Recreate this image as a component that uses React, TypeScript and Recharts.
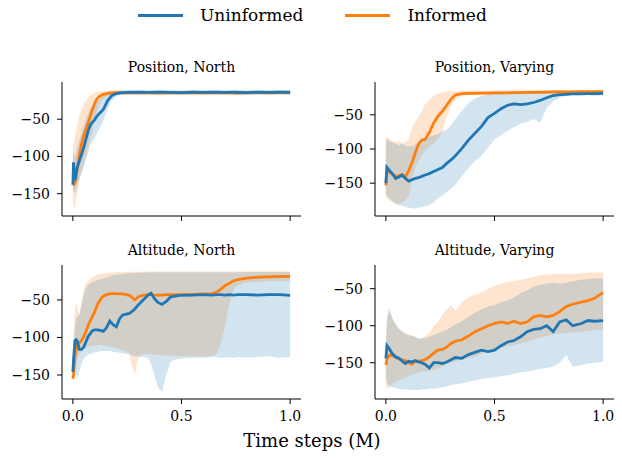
import React from 'react';
import { Area, ComposedChart, Line, XAxis, YAxis } from 'recharts';

const BLUE = '#1f77b4';
const ORANGE = '#ff7f0e';
const FONT = '"DejaVu Serif", serif';

const seriesNames = ['Uninformed', 'Informed'];
const xTicks = [0, 0.5, 1];
const yTicks = [-150, -100, -50];

// Position, North
const tlX = [0, 0.003, 0.01, 0.015, 0.02, 0.03, 0.04, 0.05, 0.06, 0.07, 0.08, 0.09, 0.1, 0.11, 0.12, 0.13, 0.14, 0.15, 0.16, 0.18,
  0.2, 0.22, 0.25, 0.3, 0.35, 0.4, 0.45, 0.5, 0.55, 0.6, 0.65, 0.7, 0.75, 0.8, 0.85, 0.9, 0.95, 1.0];
const tlUninf = [-138, -108, -132, -123, -115, -106, -97, -88, -77, -66, -58, -54, -51, -46, -43, -40, -37, -31, -25, -18,
  -15.5, -14.5, -14, -13.8, -14, -13.7, -14, -14.2, -13.8, -14, -13.6, -14, -13.8, -14.2, -13.7, -14, -13.6, -13.8];
const tlUninfHi = [-100, -95, -100, -95, -88, -78, -68, -58, -50, -42, -37, -33, -30, -27, -24, -21, -18, -15, -13.5, -12,
  -11.5, -11.5, -11.2, -11.3, -11.5, -11.2, -11.4, -11.5, -11.2, -11.4, -11.2, -11.5, -11.3, -11.5, -11.2, -11.4, -11.2, -11.3];
const tlUninfLo = [-150, -145, -150, -145, -138, -130, -122, -115, -105, -95, -85, -80, -76, -70, -64, -58, -52, -45, -36, -25,
  -19, -17, -16.5, -16.3, -16.6, -16.2, -16.5, -16.8, -16.4, -16.6, -16.2, -16.5, -16.4, -16.8, -16.3, -16.6, -16.2, -16.4];
const tlInf = [-138, -138, -135, -128, -117, -97, -83, -72, -63, -55, -46, -37, -29, -23, -20, -18, -16.5, -15.8, -15.2, -14.5,
  -14.2, -14.4, -14.6, -14.3, -14.5, -14.8, -14.4, -14.6, -14.3, -14.7, -14.5, -14.4, -14.8, -14.5, -14.3, -14.6, -14.4, -14.5];
const tlInfHi = [-85, -80, -75, -65, -58, -45, -36, -30, -25, -21, -18, -16, -14, -13, -12.5, -12, -12, -11.8, -11.8, -11.6,
  -11.5, -11.5, -11.4, -11.5, -11.6, -11.4, -11.5, -11.6, -11.4, -11.5, -11.6, -11.4, -11.5, -11.6, -11.4, -11.5, -11.4, -11.5];
const tlInfLo = [-160, -165, -170, -160, -150, -135, -120, -108, -98, -88, -78, -66, -52, -40, -32, -26, -22, -20, -19, -18,
  -17.5, -17.4, -17.6, -17.3, -17.5, -17.8, -17.4, -17.6, -17.3, -17.7, -17.5, -17.4, -17.8, -17.5, -17.3, -17.6, -17.4, -17.5];

// shared x for the "Varying" panels
const rX = [0, 0.005, 0.015,
  0.03, 0.045, 0.06, 0.075, 0.09, 0.105, 0.12, 0.135, 0.15, 0.165, 0.18,
  0.2, 0.22, 0.24, 0.26, 0.28, 0.3, 0.32,
  0.35, 0.38, 0.41, 0.44, 0.47, 0.5, 0.53, 0.56, 0.59, 0.62, 0.65, 0.68, 0.71, 0.74, 0.77, 0.8,
  0.83, 0.86, 0.9, 0.93, 0.96, 1.0];

// Position, Varying
const trUninf = [-150, -127, -131,
  -136, -143, -141, -138, -143, -147, -145, -143, -142, -140, -138,
  -136, -133, -130, -127, -121, -116, -110,
  -99, -87, -77, -67, -54, -48, -41, -36, -34, -35, -34, -32, -29, -25, -22, -20.5,
  -20, -19.5, -19.5, -19, -19, -18.5];
const trUninfHi = [-90, -85, -88,
  -90, -92, -95, -92, -95, -96, -96, -93, -90, -88, -85,
  -82, -80, -78, -75, -72, -65, -56,
  -44, -33, -26, -22, -19.5, -18, -17, -16.5, -16.5, -16, -16, -15.8, -15.7, -15.6, -15.5, -15.5,
  -15.4, -15.4, -15.3, -15.3, -15.2, -15.2];
const trUninfLo = [-165, -170, -172,
  -176, -180, -182, -183, -185, -186, -187, -187, -186, -185, -184,
  -182, -178, -172, -168, -163, -158, -152,
  -140, -128, -118, -110, -98, -86, -80, -73, -68, -63, -60, -56, -62, -40, -30, -25,
  -22, -20, -21, -21, -22, -22];
const trInf = [-153, -129, -134,
  -137, -140, -139, -137, -141, -132, -120, -106, -93, -87, -86,
  -76, -62, -52, -45, -36, -27, -21,
  -19, -18.5, -18.5, -18.3, -18.2, -18, -18, -17.8, -17.6, -17.5, -17.3, -17.2, -17, -16.8, -16.6, -16.5,
  -16.4, -16.3, -16.2, -16.1, -16, -16];
const trInfHi = [-85, -82, -85,
  -88, -90, -88, -92, -90, -85, -70, -60, -52, -45, -35,
  -28, -22, -19, -17, -16, -15, -15,
  -14.5, -14.5, -14.4, -14.4, -14.3, -14.3, -14.2, -14.2, -14.1, -14.1, -14, -14, -14, -13.9, -13.9, -13.8,
  -13.8, -13.8, -13.7, -13.7, -13.7, -13.6];
const trInfLo = [-165, -170, -175,
  -178, -180, -180, -178, -175, -170, -145, -128, -118, -110, -103,
  -97, -92, -85, -75, -52, -38, -28,
  -23, -21, -20.5, -20.5, -20.4, -20.3, -20.2, -20, -19.8, -19.6, -19.4, -19.2, -19, -18.8, -18.6, -18.5,
  -18.4, -18.3, -18.2, -18.2, -18.1, -18];

// Altitude, North
const blX = [0, 0.003, 0.01, 0.015, 0.02, 0.03, 0.04, 0.05, 0.06, 0.07,
  0.08, 0.09, 0.1, 0.115, 0.13, 0.14, 0.155, 0.17, 0.185, 0.2,
  0.215, 0.23, 0.26, 0.27, 0.285, 0.3, 0.32, 0.345, 0.36, 0.375,
  0.39, 0.41, 0.43, 0.45, 0.49, 0.55, 0.6, 0.64, 0.66, 0.68,
  0.7, 0.72, 0.74, 0.76, 0.8, 0.85, 0.9, 0.95, 1.0];
const blUninf = [-146, -130, -104, -103, -105, -116, -116, -113, -106, -99,
  -95, -91, -90, -90, -91, -92, -87, -78, -83, -86,
  -75, -70, -68, -66, -62, -57, -51, -44, -41, -48,
  -53, -56, -52, -46, -44, -43.5, -43, -43.5, -43, -43,
  -43.5, -43, -43.5, -43, -43, -43.5, -43, -43, -44];
const blUninfHi = [-140, -110, -85, -75, -72, -70, -55, -42, -35, -30,
  -28, -26, -25, -23, -22, -21, -20, -18, -17, -16.5,
  -16, -15, -14.5, -14, -14, -13.8, -13.6, -13.5, -13.4, -13.3,
  -13.3, -13.2, -13.2, -13.1, -13, -13, -13, -13, -13, -13,
  -13, -13, -13, -13, -12.9, -12.9, -12.8, -12.8, -12.8];
const blUninfLo = [-150, -148, -140, -150, -155, -145, -135, -128, -125, -123,
  -122, -121, -120, -119, -118, -118, -118, -118, -119, -120,
  -120, -121, -123, -124, -125, -125, -126, -127, -135, -150,
  -165, -173, -150, -132, -128, -127, -127, -126, -126, -127,
  -127, -126, -127, -126, -127, -126, -125, -127, -126];
const blInf = [-155, -150, -125, -117, -110, -107, -104, -99, -92, -84,
  -78, -72, -66, -55, -48, -45, -43, -42, -41.5, -41.5,
  -42, -42, -44, -46, -50, -46, -44, -43, -43, -43.5,
  -43.5, -43.5, -43, -43, -43, -42.5, -42, -41.5, -40, -36,
  -31, -28, -24.5, -23, -21, -19.8, -19.2, -18.9, -18.6];
const blInfHi = [-140, -100, -60, -52, -58, -70, -55, -35, -28, -25,
  -22, -19, -18, -16, -15, -14.5, -14, -13.5, -13, -13,
  -12.8, -12.7, -12.6, -12.5, -12.5, -12.4, -12.4, -12.3, -12.3, -12.3,
  -12.2, -12.2, -12.2, -12.1, -12.1, -12, -12, -12, -12, -12,
  -12, -12, -12, -12, -11.9, -11.9, -11.8, -11.8, -11.8];
const blInfLo = [-158, -155, -150, -140, -130, -122, -118, -115, -113, -112,
  -112, -111, -111, -110, -110, -111, -111, -112, -113, -114,
  -115, -117, -120, -135, -150, -128, -122, -122, -122, -123,
  -123, -124, -124, -124, -125, -125, -125, -125, -122, -110,
  -85, -55, -36, -30, -27, -26, -25, -25, -25];

// Altitude, Varying
const brUninf = [-144, -127, -131,
  -138, -142, -144, -148, -151, -148, -149, -147, -149, -150, -152,
  -157, -150, -150, -151, -149, -146, -143,
  -144, -139, -136, -133, -135, -133, -127, -122, -120, -115, -108, -105, -104, -100, -108, -95,
  -92, -100, -97, -93, -94, -93];
const brUninfHi = [-125, -90, -75,
  -90, -98, -104, -108, -111, -113, -114, -115, -117, -117, -117,
  -115, -113, -110, -108, -105, -102, -98,
  -94, -88, -82, -78, -74, -72, -68, -66, -62, -56, -52, -47, -45, -43, -42, -43,
  -42, -40, -38, -37, -36, -36];
const brUninfLo = [-170, -178, -182,
  -183, -184, -185, -186, -186, -186, -187, -187, -187, -186, -186,
  -185, -185, -184, -183, -182, -180, -179,
  -178, -176, -174, -172, -171, -170, -168, -167, -165, -163, -162, -160, -158, -157, -155, -150,
  -140, -155, -153, -151, -150, -149];
const brInf = [-153, -145, -140,
  -140, -143, -145, -146, -147, -150, -152, -148, -148, -147, -146,
  -142, -137, -133, -132, -129, -124, -121,
  -119, -114, -108, -104, -100, -97, -95, -97, -94, -97, -95, -88, -86, -88, -86, -81,
  -74, -71, -68, -66, -63, -55];
const brInfHi = [-120, -95, -80,
  -90, -98, -104, -107, -110, -112, -113, -115, -118, -118, -114,
  -110, -100, -95, -85, -78, -72, -80,
  -68, -62, -58, -55, -50, -46, -43, -41, -40, -38, -36, -34, -32, -31, -30, -30,
  -30, -30, -29, -28, -28, -28];
const brInfLo = [-180, -185, -182,
  -178, -176, -174, -172, -170, -168, -166, -164, -163, -162, -162,
  -161, -160, -158, -155, -152, -150, -148,
  -146, -144, -142, -138, -135, -133, -130, -127, -126, -124, -122, -119, -116, -114, -112, -111,
  -110, -109, -108, -107, -106, -105];

const buildRows = (x: number[], u: number[], uLo: number[], uHi: number[], i: number[], iLo: number[], iHi: number[]) =>
  x.map((t, k) => ({ t, u: u[k], uBand: [uLo[k], uHi[k]], i: i[k], iBand: [iLo[k], iHi[k]] }));

const panels = [
  { title: 'Position, North', rows: buildRows(tlX, tlUninf, tlUninfLo, tlUninfHi, tlInf, tlInfLo, tlInfHi), yDomain: [-180, 0], left: 62, top: 82, labels: false },
  { title: 'Position, Varying', rows: buildRows(rX, trUninf, trUninfLo, trUninfHi, trInf, trInfLo, trInfHi), yDomain: [-198, -2], left: 375, top: 82, labels: false },
  { title: 'Altitude, North', rows: buildRows(blX, blUninf, blUninfLo, blUninfHi, blInf, blInfLo, blInfHi), yDomain: [-182, -3.5], left: 62, top: 265, labels: true },
  { title: 'Altitude, Varying', rows: buildRows(rX, brUninf, brUninfLo, brUninfHi, brInf, brInfLo, brInfHi), yDomain: [-199, -18], left: 375, top: 265, labels: true },
];

const PLOT_W = 239;
const PLOT_H = 134;
const Y_W = 62;
const X_H = 32;
const tickStyle = { fill: '#000', fontSize: 14, fontFamily: FONT };
const fmtY = (v: number) => `\u2212${Math.abs(v)}`;

const Panel = ({ p }: { p: typeof panels[number] }) => (
  <>
    <div style={{ position: 'absolute', left: p.left, top: p.top - 24, width: PLOT_W, textAlign: 'center', fontSize: 14, lineHeight: '18px' }}>
      {p.title}
    </div>
    <div style={{ position: 'absolute', left: p.left - Y_W, top: p.top }}>
      <ComposedChart width={Y_W + PLOT_W + 4} height={PLOT_H + X_H} data={p.rows} margin={{ top: 0, right: 4, bottom: 0, left: 0 }}>
        <XAxis dataKey="t" type="number" domain={[-0.05, 1.05]} ticks={xTicks} interval={0} height={X_H}
          tickSize={5} tickMargin={7} stroke="#000" tick={tickStyle}
          tickFormatter={(v: number) => (p.labels ? v.toFixed(1) : '')} />
        <XAxis xAxisId="top" orientation="top" type="number" domain={[-0.05, 1.05]} height={0} tick={false} tickLine={false} stroke="#000" />
        <YAxis type="number" domain={p.yDomain} ticks={yTicks} interval={0} width={Y_W}
          tickSize={5} tickMargin={7} stroke="#000" tick={tickStyle} tickFormatter={fmtY} />
        <YAxis yAxisId="right" orientation="right" type="number" domain={p.yDomain} width={0} tick={false} tickLine={false} stroke="#000" />
        <Area type="linear" dataKey="iBand" stroke="none" fill={ORANGE} fillOpacity={0.2} isAnimationActive={false} />
        <Area type="linear" dataKey="uBand" stroke="none" fill={BLUE} fillOpacity={0.2} isAnimationActive={false} />
        <Line type="linear" dataKey="i" stroke={ORANGE} strokeWidth={2.8} dot={false} activeDot={false} isAnimationActive={false} />
        <Line type="linear" dataKey="u" stroke={BLUE} strokeWidth={2.8} dot={false} activeDot={false} isAnimationActive={false} />
      </ComposedChart>
    </div>
  </>
);

export default function App() {
  return (
    <div style={{ position: 'absolute', left: 0, top: 0, width: 622, height: 458, background: '#fff', fontFamily: FONT, color: '#000' }}>
      <div style={{ position: 'absolute', left: 138, top: 5, height: 20, display: 'flex', alignItems: 'center', fontSize: 17 }}>
        {seriesNames.map((name, k) => (
          <div key={name} style={{ display: 'flex', alignItems: 'center', marginRight: k === 0 ? 42 : 0 }}>
            <span style={{ display: 'inline-block', width: 45, height: 3, background: k === 0 ? BLUE : ORANGE, marginRight: 17 }} />
            <span>{name}</span>
          </div>
        ))}
      </div>
      {panels.map((p) => <Panel key={p.title} p={p} />)}
      <div style={{ position: 'absolute', left: 0, width: 624, top: 430, textAlign: 'center', fontSize: 18, lineHeight: '22px' }}>
        Time steps (M)
      </div>
    </div>
  );
}
